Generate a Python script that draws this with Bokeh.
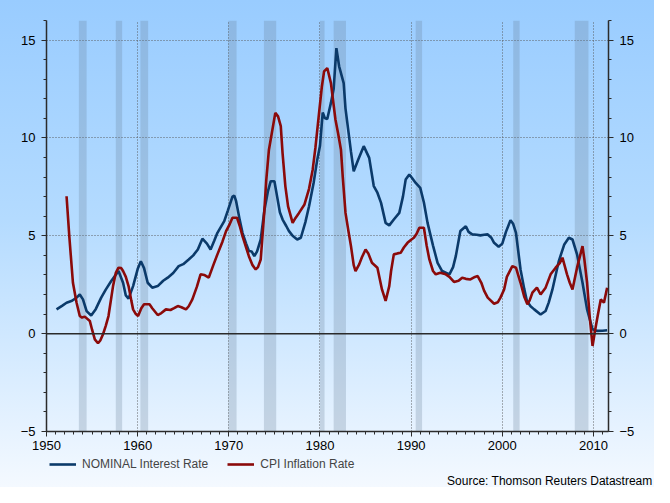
from bokeh.plotting import figure
from bokeh.models import (Range1d, LinearAxis, SingleIntervalTicker, Span,
                          BoxAnnotation, Legend, LegendItem, Title)
from bokeh.layouts import column
from bokeh.embed import file_html
from bokeh.resources import INLINE

# ---------------- data ----------------
nominal_year = [1951.1, 1951.7, 1952.2, 1952.8, 1953.3, 1953.65, 1954.0, 1954.4, 1954.9, 1955.4,
                1956.0, 1956.5, 1957.1, 1957.9, 1958.4, 1958.7, 1959.0, 1959.5, 1960.0, 1960.35,
                1960.7, 1961.1, 1961.6, 1962.2, 1962.8, 1963.3, 1963.9, 1964.5, 1965.0, 1965.6,
                1966.1, 1966.6, 1967.1, 1967.6, 1968.0, 1968.4, 1968.75, 1969.5, 1969.9, 1970.4,
                1970.6, 1970.8, 1971.2, 1971.5, 1971.9, 1972.2, 1972.5, 1972.8, 1973.1, 1973.5,
                1973.9, 1974.3, 1974.6, 1975.0, 1975.3, 1975.6, 1975.9, 1976.3, 1976.6, 1977.0,
                1977.5, 1977.9, 1978.4, 1978.8, 1979.3, 1979.7, 1980.0, 1980.3, 1980.55, 1980.8,
                1981.2, 1981.5, 1981.8, 1982.1, 1982.6, 1982.8, 1983.0, 1983.4, 1983.7, 1984.2,
                1984.8, 1985.4, 1985.9, 1986.3, 1986.7, 1987.2, 1987.6, 1988.1, 1988.7, 1989.1,
                1989.4, 1989.8, 1990.1, 1990.5, 1991.0, 1991.4, 1991.8, 1992.4, 1992.9, 1993.4,
                1994.2, 1994.6, 1994.9, 1995.4, 1996.0, 1996.3, 1996.7, 1997.2, 1997.6, 1998.0,
                1998.4, 1998.8, 1999.1, 1999.6, 2000.0, 2000.4, 2000.9, 2001.2, 2001.5, 2002.0,
                2002.4, 2002.7, 2003.1, 2003.5, 2004.2, 2004.75, 2005.1, 2005.5, 2006.2, 2006.8,
                2007.3, 2007.7, 2008.2, 2008.8, 2009.3, 2009.9, 2010.4, 2011.0, 2011.5]
nominal_rate = [1.24, 1.42, 1.58, 1.68, 1.84, 2.0, 1.75, 1.15, 0.93, 1.25,
                1.84, 2.25, 2.69, 3.2, 2.6, 1.95, 1.79, 2.43, 3.3, 3.7,
                3.35, 2.6, 2.35, 2.43, 2.7, 2.86, 3.1, 3.45, 3.55, 3.79,
                4.0, 4.3, 4.85, 4.6, 4.3, 4.75, 5.15, 5.75, 6.3, 7.0,
                7.05, 6.77, 5.8, 5.15, 4.6, 4.22, 4.2, 3.96, 4.2, 4.81,
                6.3, 7.3, 7.79, 7.79, 7.0, 6.2, 5.83, 5.5, 5.24, 5.0,
                4.81, 4.9, 5.7, 6.51, 7.7, 8.89, 9.6, 11.3, 11.0, 10.97,
                11.79, 12.5, 14.59, 13.66, 12.8, 11.5, 10.77, 9.3, 8.3, 8.9,
                9.58, 8.98, 7.54, 7.2, 6.68, 5.66, 5.53, 5.83, 6.17, 7.0,
                7.87, 8.13, 7.95, 7.7, 7.45, 6.7, 5.66, 4.5, 3.62, 3.2,
                3.03, 3.4, 3.96, 5.24, 5.49, 5.2, 5.07, 5.05, 5.02, 5.05,
                5.07, 4.9, 4.64, 4.44, 4.6, 5.2, 5.8, 5.6, 5.15, 3.28,
                2.3, 1.67, 1.4, 1.24, 0.98, 1.16, 1.6, 2.26, 3.71, 4.56,
                4.9, 4.81, 4.05, 2.6, 1.24, 0.22, 0.14, 0.15, 0.17]

cpi_year = [1952.2, 1952.5, 1952.9, 1953.3, 1953.65, 1953.9, 1954.2, 1954.75, 1955.0, 1955.3,
            1955.65, 1955.9, 1956.2, 1956.5, 1956.8, 1957.3, 1957.6, 1957.9, 1958.2, 1958.4,
            1958.7, 1959.0, 1959.3, 1959.5, 1959.8, 1960.05, 1960.4, 1960.7, 1961.3, 1961.6,
            1962.2, 1962.6, 1963.1, 1963.6, 1964.0, 1964.4, 1964.8, 1965.3, 1965.6, 1966.0,
            1966.5, 1966.9, 1967.3, 1967.8, 1968.3, 1968.75, 1969.3, 1969.7, 1970.1, 1970.4,
            1970.9, 1971.2, 1971.5, 1971.9, 1972.2, 1972.6, 1972.95, 1973.2, 1973.5, 1973.9,
            1974.1, 1974.4, 1974.7, 1975.1, 1975.4, 1975.7, 1975.9, 1976.2, 1976.5, 1977.0,
            1977.3, 1977.7, 1978.3, 1978.8, 1979.2, 1979.5, 1979.9, 1980.2, 1980.45, 1980.8,
            1981.2, 1981.7, 1982.0, 1982.3, 1982.5, 1982.8, 1983.1, 1983.4, 1983.7, 1983.9,
            1984.3, 1984.6, 1985.0, 1985.3, 1985.7, 1986.3, 1986.8, 1987.2, 1987.6, 1987.8,
            1988.1, 1988.5, 1988.85, 1989.2, 1989.6, 1990.0, 1990.3, 1990.6, 1990.9, 1991.4,
            1991.7, 1992.0, 1992.4, 1992.7, 1993.2, 1993.8, 1994.2, 1994.7, 1995.2, 1995.6,
            1996.0, 1996.5, 1997.0, 1997.3, 1997.7, 1998.0, 1998.4, 1999.1, 1999.5, 1999.8,
            2000.2, 2000.5, 2001.1, 2001.5, 2002.0, 2002.4, 2002.75, 2003.0, 2003.3, 2003.8,
            2004.2, 2004.75, 2005.3, 2005.85, 2006.3, 2006.6, 2007.1, 2007.4, 2007.7, 2008.2,
            2008.8, 2009.0, 2009.3, 2009.6, 2009.9, 2010.2, 2010.5, 2010.8, 2011.15, 2011.5]
cpi_rate = [7.02, 4.98, 2.6, 1.58, 0.9, 0.82, 0.87, 0.65, 0.2, -0.29,
            -0.49, -0.35, -0.03, 0.4, 0.9, 2.43, 3.1, 3.37, 3.35, 3.2,
            2.9, 2.43, 1.7, 1.24, 1.0, 0.9, 1.3, 1.5, 1.5, 1.3,
            0.95, 1.05, 1.24, 1.21, 1.3, 1.41, 1.35, 1.24, 1.4, 1.75,
            2.4, 3.03, 3.0, 2.86, 3.5, 4.05, 4.7, 5.24, 5.6, 5.92,
            5.92, 5.5, 4.98, 4.4, 3.96, 3.5, 3.28, 3.4, 3.79, 6.3,
            7.8, 9.4, 10.2, 11.28, 11.1, 10.6, 9.2, 7.54, 6.5, 5.66,
            5.9, 6.17, 6.6, 7.4, 8.38, 9.5, 11.28, 12.6, 13.4, 13.57,
            12.8, 10.93, 10.2, 9.4, 8.0, 6.17, 5.3, 4.47, 3.5, 3.2,
            3.54, 3.9, 4.3, 4.1, 3.62, 3.37, 2.26, 1.67, 2.43, 3.2,
            4.05, 4.1, 4.13, 4.4, 4.64, 4.8, 4.9, 5.1, 5.41, 5.41,
            4.5, 3.79, 3.2, 3.03, 3.11, 3.03, 2.9, 2.64, 2.7, 2.86,
            2.8, 2.77, 2.9, 2.94, 2.6, 2.2, 1.84, 1.53, 1.6, 1.84,
            2.26, 2.9, 3.45, 3.37, 2.6, 1.9, 1.5, 1.7, 2.09, 2.35,
            2.0, 2.35, 3.03, 3.37, 3.6, 3.88, 3.03, 2.6, 2.26, 3.37,
            4.47, 3.8, 2.6, 0.8, -0.63, 0.22, 1.0, 1.75, 1.58, 2.35]

recession_start = [1953.55, 1957.6, 1960.3, 1969.95, 1973.85, 1980.0, 1981.5, 1990.5, 2001.2, 2007.95]
recession_end = [1954.4, 1958.3, 1961.15, 1970.85, 1975.2, 1980.5, 1982.85, 1991.2, 2001.9, 2009.45]

x_start, x_end = 1950, 2011.65
y_start, y_end = -5, 16

series_names = ["NOMINAL Interest Rate", "CPI Inflation Rate"]
source_text = "Source: Thomson Reuters Datastream"

FONT = "Liberation Sans"
AXIS_COL = "#2b2b2b"
NOM_COL = "#0b3a6a"
CPI_COL = "#8b0a0a"

# ---------------- main chart ----------------
p = figure(width=654, height=455, x_range=Range1d(x_start, x_end), y_range=Range1d(y_start, y_end),
           output_backend="svg", toolbar_location=None, title=None,
           min_border_left=46, min_border_right=46, min_border_top=20, min_border_bottom=24)
p.border_fill_alpha = 0
p.background_fill_alpha = 0
p.outline_line_color = None

for s, e in zip(recession_start, recession_end):
    p.add_layout(BoxAnnotation(left=s, right=e, fill_color="#667d92", fill_alpha=0.26,
                               line_alpha=0, level="underlay"))

p.xaxis.ticker = SingleIntervalTicker(interval=10, num_minor_ticks=10)
p.yaxis.ticker = SingleIntervalTicker(interval=5, num_minor_ticks=5)
right_axis = LinearAxis(ticker=SingleIntervalTicker(interval=5, num_minor_ticks=5))
p.add_layout(right_axis, "right")

for ax in [p.xaxis[0], p.yaxis[0], right_axis]:
    ax.axis_line_color = AXIS_COL
    ax.axis_line_width = 1.5
    ax.major_tick_line_color = AXIS_COL
    ax.minor_tick_line_color = AXIS_COL
    ax.major_tick_out = 5
    ax.major_tick_in = 0
    ax.minor_tick_out = 3
    ax.minor_tick_in = 0
    ax.major_label_text_font = FONT
    ax.major_label_text_font_size = "13px"
    ax.major_label_text_color = "#000000"
    ax.major_label_standoff = 6
p.xaxis.major_label_standoff = 4

for g in (p.xgrid, p.ygrid):
    g.grid_line_color = "#555555"
    g.grid_line_dash = "1 2"
    g.grid_line_alpha = 0.9

p.add_layout(Span(location=0, dimension="width", line_color=AXIS_COL, line_width=1.5))

p.line(nominal_year, nominal_rate, line_color=NOM_COL, line_width=2.6)
p.line(cpi_year, cpi_rate, line_color=CPI_COL, line_width=2.6)

# ---------------- legend + source strip ----------------
q = figure(width=654, height=32, x_range=Range1d(0, 1), y_range=Range1d(0, 1),
           x_axis_type=None, y_axis_type=None, output_backend="svg", toolbar_location=None,
           title=None, min_border=0)
q.border_fill_alpha = 0
q.background_fill_alpha = 0
q.outline_line_color = None
q.grid.visible = False
# same series drawn in the strip (outside its visible range) so the legend keys match
k1 = q.line(nominal_year, nominal_rate, line_color=NOM_COL, line_width=2.6)
k2 = q.line(cpi_year, cpi_rate, line_color=CPI_COL, line_width=2.6)

legend = Legend(items=[LegendItem(label=series_names[0], renderers=[k1]),
                       LegendItem(label=series_names[1], renderers=[k2])],
                orientation="horizontal", location=(3, 0), padding=0, margin=0,
                spacing=19, glyph_width=27, glyph_height=12, label_standoff=6,
                label_text_font=FONT, label_text_font_size="12px",
                background_fill_alpha=0, border_line_alpha=0)
q.add_layout(legend)
q.add_layout(Title(text=source_text, align="right", text_font=FONT, text_font_size="12px",
                   text_font_style="normal", text_color="#000000", standoff=0, offset=-44),
             "below")

layout = column(p, q, spacing=0)
layout.styles = {"background": "linear-gradient(to bottom, #99CCFF 0%, #B4DBFF 45%, #F4F9FF 100%)"}

open("out.html", "w").write(file_html(layout, INLINE))
